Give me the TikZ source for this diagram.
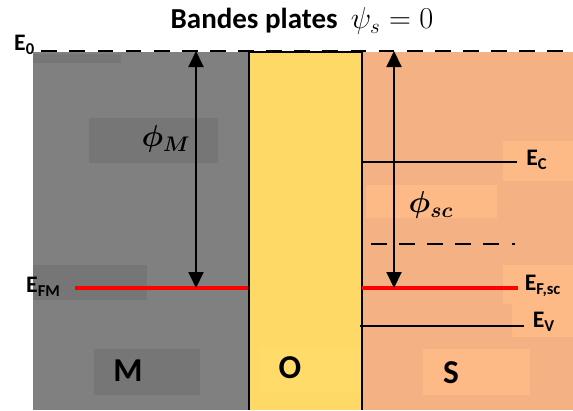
\documentclass[tikz,border=0pt]{standalone}
\usepackage{amsmath,amssymb}
\usepackage{fontspec}
\setmainfont{Carlito}
\usepackage{xcolor}
\usepackage{tikz}
\usetikzlibrary{positioning,arrows.meta,calc}
\definecolor{MetalGray}{HTML}{808080}
\definecolor{MetalBox}{HTML}{767676}
\definecolor{OxYellow}{HTML}{FFD966}
\definecolor{OxBox}{HTML}{FFDC6A}
\definecolor{SemiOrange}{HTML}{F4B183}
\definecolor{SemiBox}{HTML}{FDBA87}
\definecolor{LevelRed}{HTML}{FF0000}

\begin{document}
\begin{tikzpicture}[x=0.02cm,y=-0.02cm,
          every node/.style={font=\bfseries, text=black},
          lvl/.style={line width=1.1pt,black},
          fermi/.style={line width=2.4pt,LevelRed},
          ar/.style={{Triangle[length=3.2mm,width=3mm]}-{Triangle[length=3.2mm,width=3mm]},line width=1.1pt},
          elbl/.style={font=\bfseries\fontsize{13.5}{15}\selectfont},
          big/.style={font=\bfseries\fontsize{19}{21}\selectfont}]
        \useasboundingbox (0,0) rectangle (573,410);
        % the three regions
        \fill[MetalGray] (33,52) rectangle (249,410);
        \fill[SemiOrange] (362,52) rectangle (573,410);
        \fill[OxYellow] (249,52) rectangle (362,410);
        % text boxes left behind in the picture
        \fill[MetalBox] (33,54) rectangle (121,63);
        \fill[MetalBox] (89,118) rectangle (218,163);
        \fill[MetalBox] (33,265) rectangle (147,300);
        \fill[MetalBox] (94,349) rectangle (200,395);
        \fill[OxBox] (260,347) rectangle (361,393);
        \fill[SemiBox] (423,349) rectangle (530,395);
        \fill[SemiBox] (503,141) rectangle (573,181);
        \fill[SemiBox] (366,185) rectangle (497,218);
        \fill[SemiBox] (503,265) rectangle (573,304);
        \fill[SemiBox] (512,304) rectangle (573,337);
        \draw[lvl] (249,410) -- (249,52) -- (362,52) -- (362,410);
        % vacuum level
        \node[font=\bfseries\fontsize{16.5}{18}\selectfont] (title) at (302,21)
          {Bandes plates \ $\psi_s = 0$};
        \node[elbl, anchor=west] (e0) at (8,45) {E\textsubscript{0}};
        \coordinate (e0r) at (573,51);
        \draw[line width=1.1pt, dash pattern=on 9pt off 7pt]
          ($(e0.east)+(0,6)$) -- (e0r);
        % metal
        \node[elbl, anchor=west] (efm) at (20,287) {E\textsubscript{FM}};
        \coordinate (efmr) at (248,288);
        \draw[line width=1.8pt, LevelRed] (75,288) -- (147,288);
        \draw[fermi] (147,288) -- (efmr);
        \coordinate (phiMtop) at (196,51);
        \coordinate (phiMbot) at (196,288);
        \draw[ar] (phiMbot) -- (phiMtop);
        \node[font=\fontsize{17}{18}\selectfont] (phiM) at (166,139) {$\boldsymbol{\phi_M}$};
        \node[big] (m) at (128,371) {M};
        \node[big] (o) at (290,368) {O};
        \node[big] (s) at (451,373) {S};
        % semiconductor levels
        \node[elbl] (ec) at (537,160) {E\textsubscript{C}};
        \node[elbl] (efsc) at (543,286) {E\textsubscript{F,sc}};
        \node[elbl] (ev) at (544,322) {E\textsubscript{V}};
        \draw[lvl] (362,162) -- ($(ec.west)+(-3,2)$);
        \draw[fermi] (362,288) -- ($(efsc.west)+(-1,2)$);
        \draw[lvl] (360,326) -- ($(ev.west)+(-3,4)$);
        \draw[line width=1.1pt, dash pattern=on 9pt off 7pt] (371,244) -- (515,244);
        \coordinate (phiSCtop) at (394,51);
        \coordinate (phiSCbot) at (394,288);
        \draw[ar] (phiSCbot) -- (phiSCtop);
        \node[font=\fontsize{17}{18}\selectfont] (phiSC) at (431,205) {$\boldsymbol{\phi_{sc}}$};
      \end{tikzpicture}
\end{document}
